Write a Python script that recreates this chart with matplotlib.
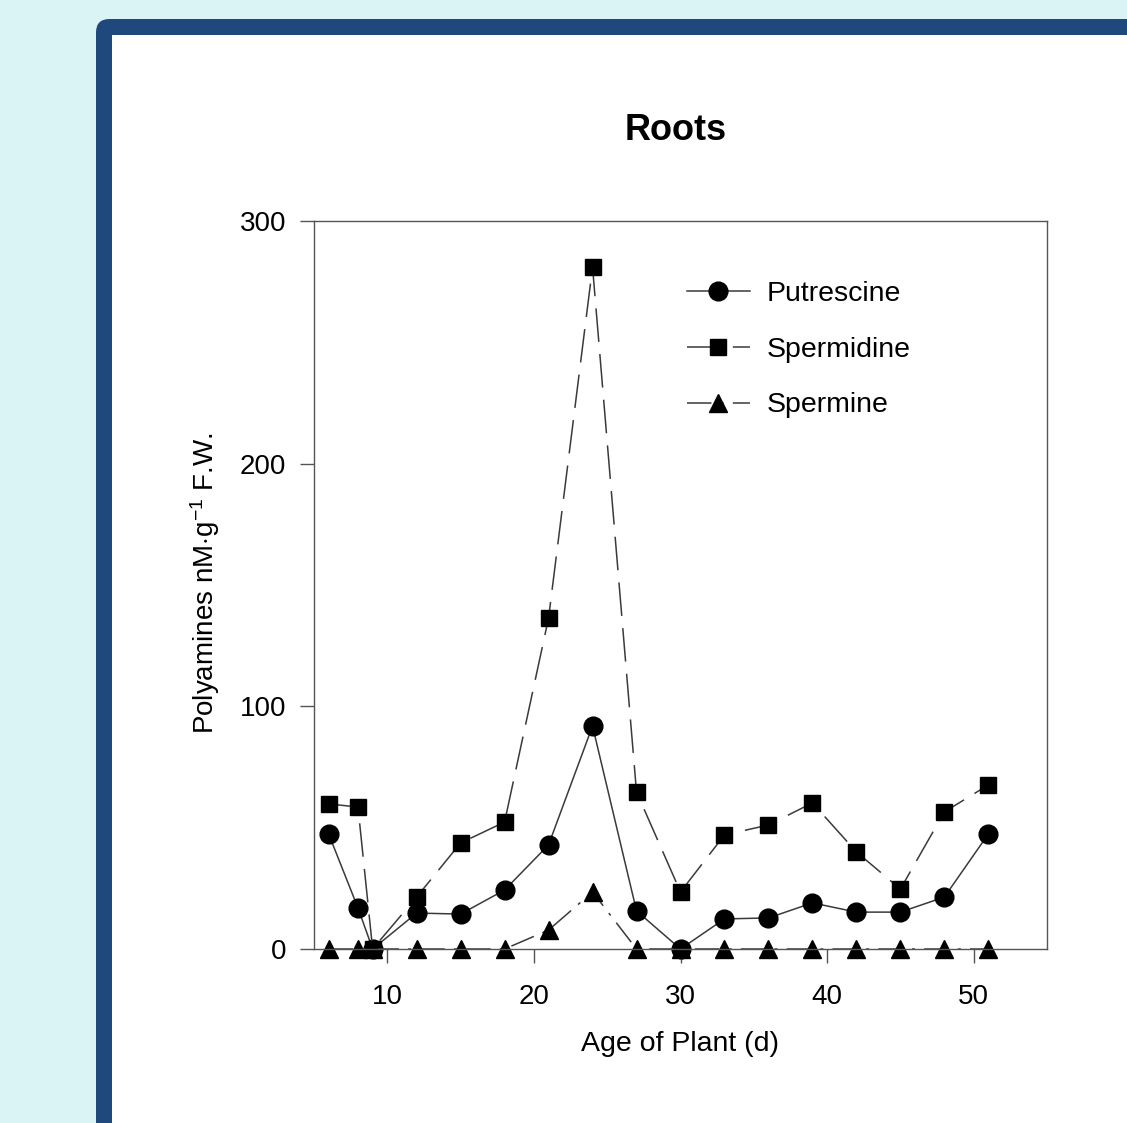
"""Polyamine levels in roots over plant age."""

import matplotlib
matplotlib.use("Agg")
import matplotlib.pyplot as plt
from matplotlib.patches import FancyBboxPatch, Rectangle

plt.rcParams["font.family"] = ["Liberation Sans", "DejaVu Sans"]
plt.rcParams["mathtext.fontset"] = "custom"
plt.rcParams["mathtext.rm"] = "Liberation Sans"
plt.rcParams["mathtext.it"] = "Liberation Sans"

days = [6, 8, 9, 12, 15, 18, 21, 24, 27, 30, 33, 36, 39, 42, 45, 48, 51]
putrescine = [47.4, 16.9, 0, 14.8, 14.4, 24.3, 42.9, 91.9, 15.7, 0,
              12.4, 12.8, 19.0, 15.2, 15.2, 21.4, 47.4]
spermidine = [59.8, 58.5, 0, 21.4, 43.7, 52.3, 136.4, 281.0, 64.7, 23.5,
              47.0, 51.1, 60.2, 40.0, 24.7, 56.5, 67.6]
spermine = [0, 0, 0, 0, 0, 0, 7.8, 23.5, 0, 0, 0, 0, 0, 0, 0, 0, 0]

W, H = 1127, 1123
fig = plt.figure(figsize=(W / 100, H / 100), dpi=100)
fig.patch.set_facecolor("#daf3f5")

# dark blue frame with white panel behind the chart
fig.patches.append(FancyBboxPatch(
    (96 / W, -0.1), 1.2, (H - 19) / H + 0.1,
    boxstyle="round,pad=0,rounding_size=0.012", transform=fig.transFigure,
    facecolor="#1f497c", edgecolor="none", zorder=-3))
fig.patches.append(Rectangle(
    (112 / W, -0.1), 1.2, (H - 35) / H + 0.1, transform=fig.transFigure,
    facecolor="white", edgecolor="none", zorder=-2))

ax = fig.add_axes([314 / W, (H - 949) / H, (1047 - 314) / W, (949 - 221) / H])
ax.set_facecolor("white")

line_kw = dict(color="#3a3a3a", lw=1.1, markerfacecolor="black",
               markeredgecolor="black", clip_on=False)
ax.plot(days, putrescine, marker="o", ms=13.5, ls="-", label="Putrescine", **line_kw)
ax.plot(days, spermidine, marker="s", ms=12, ls=(0, (22, 8)), label="Spermidine", **line_kw)
ax.plot(days, spermine, marker="^", ms=13, ls=(0, (16, 6, 2, 6)), label="Spermine", **line_kw)

ax.set_xlim(5, 55)
ax.set_ylim(0, 300)
ax.set_xticks([10, 20, 30, 40, 50])
ax.set_yticks([0, 100, 200, 300])
ax.tick_params(direction="out", length=10, width=1, labelsize=20,
               color="#555555")
ax.tick_params(axis="x", pad=15)
ax.tick_params(axis="y", pad=10)
for sp in ax.spines.values():
    sp.set_color("#555555")
    sp.set_linewidth(1)

fig.text(676 / W, (H - 130) / H, "Roots", ha="center", va="center",
         fontsize=26, fontweight="bold")
fig.text(680 / W, (H - 1044) / H, "Age of Plant (d)", ha="center", va="center",
         fontsize=20.5)
fig.text(205 / W, (H - 583) / H, r"Polyamines nM$\cdot$g$^{-1}$ F.W.", ha="center",
         va="center", rotation=90, fontsize=20)

leg = ax.legend(loc="upper left", bbox_to_anchor=(0.509, 0.918), frameon=False,
                fontsize=20.5, handlelength=2.2, labelspacing=1.05,
                handletextpad=0.6, borderpad=0, borderaxespad=0)

fig.savefig("out.png", dpi=100, facecolor=fig.get_facecolor())
